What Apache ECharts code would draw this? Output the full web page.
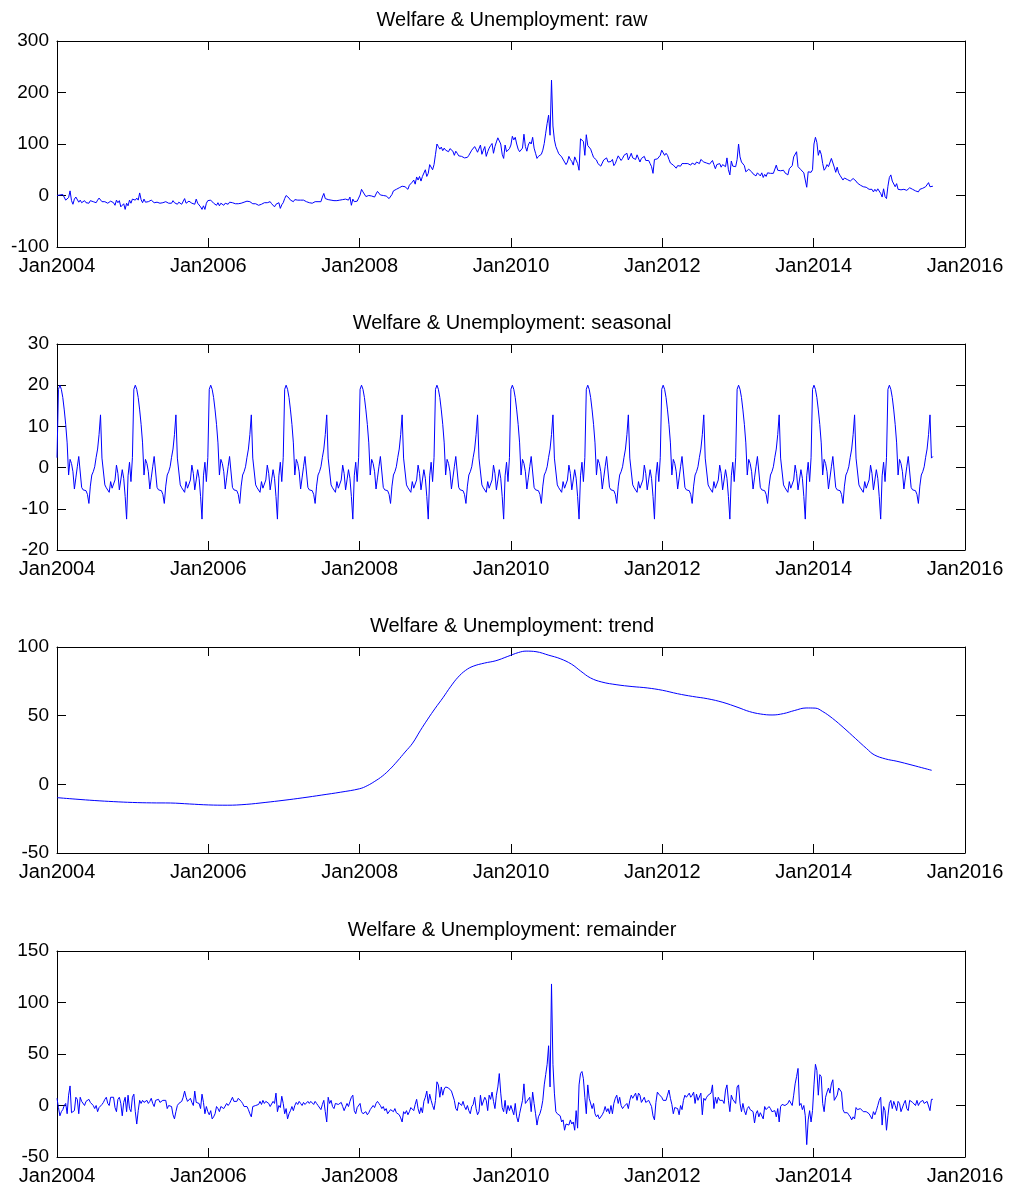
<!DOCTYPE html>
<html><head><meta charset="utf-8">
<script src="https://cdn.jsdelivr.net/npm/echarts/dist/echarts.min.js"></script>
<style>html,body{margin:0;padding:0;background:#fff}#c{width:1012px;height:1187px}</style>
</head><body><div id="c"></div>
<script>
// Weekly series, week 0 = first week of Jan 2004
const rawValues = [
0,0.5,1,2,2,0,-9,-8,-4,9,
-10,-17,-7,-3,-1,-13,-9,-14,-12,-10,
-14,-12,-15,-10,-12,-12,-9,-14,-9,-5,
-4,-12,-15,-12,-9,-15,-16,-11,-12,-14,
-19,-9,-14,-10,-22,-22,-16,-27,-15,-20,
-9,-15,-7,-4,-9,-5,-9,5,-8,-14,
-7,-13,-11,-12,-15,-9,-10,-14,-15,-13,
-12,-15,-17,-14,-15,-12,-11,-15,-12,-15,
-10,-14,-15,-17,-13,-16,-17,-15,-6,-15,
-14,-11,-13,-15,-14,-17,-7,-15,-18,-22,
-27,-20,-27,-15,-10,-7,-9,-12,-15,-18,
-19,-14,-20,-15,-18,-19,-15,-14,-17,-13,
-16,-14,-15,-16,-17,-16,-14,-15,-14,-13,
-12,-11,-12,-12,-14,-16,-17,-16,-18,-19,
-16,-17,-14,-14,-16,-14,-13,-12,-16,-14,
-22,-17,-17,-14,
-25,-18,-14,-6,0,-1,
-5,-9,-6,-12,-8,-10,-9,-10,-9,-9,
-9,-10,-12,-10,-14,-12,-15,-14,-12,-10,
-12,-9,-12,-3,4,-6,-3,-8,-6,-9,
-8,-10,-9,-10,-9,-9,-10,-8,-10,-7,
-6,-9,-3,-19,-7,-12,-12,-11,-5,1,
12,7,4,-2,-5,0,-2,-1,0,-3,
3,8,6,1,2,0,-3,-1,-4,-6,
-3,2,9,10,12,13,15,16,18,18,
17,20,12,20,23,26,30,22,36,30,
37,28,37,36,50,37,43,60,58,50,
60,80,100,95,90,94,87,92,88,89,
85,91,88,86,78,86,82,77,75,76,
74,73,72,74,78,80,88,87,95,90,
84,85,98,80,88,95,76,85,92,97,
101,82,95,104,112,114,100,80,72,98,
85,86,91,98,115,108,113,100,90,85,
88,92,119,95,86,98,104,100,113,92,
82,72,76,76,80,88,101,121,140,156,
117,224,135,108,95,88,81,78,75,72,
65,60,65,76,70,66,59,75,74,62,
49,110,113,105,78,118,97,95,90,82,
74,73,69,62,59,57,63,69,68,73,
65,62,66,70,58,62,70,77,75,68,
72,78,78,82,69,75,82,73,76,70,
79,76,65,72,70,76,68,65,68,62,
56,43,70,72,71,74,78,88,85,78,
82,78,70,63,62,59,56,53,58,60,
57,62,59,62,61,62,60,59,63,63,
60,65,68,62,70,73,65,62,63,62,
61,62,68,60,52,60,57,62,55,60,
58,56,73,50,
40,67,57,58,56,70,
100,75,65,62,58,46,45,51,50,46,
42,40,38,44,45,38,44,35,41,37,
44,42,43,43,43,44,59,49,52,48,
46,49,44,42,40,52,50,58,75,78,
85,56,53,50,48,44,42,16,46,44,
45,50,100,113,103,78,88,80,62,49,
53,60,56,59,72,74,55,45,55,44,
39,38,30,34,33,31,29,28,31,33,
30,28,24,22,20,18,17,17,16,14,
12,11,12,7,12,8,13,10,4,-3,
13,-2,-6,18,35,40,28,26,17,23,
12,12,11,10,12,12,10,12,15,13,
12,10,9,10,7,12,15,14,16,17,
18,25,17,18,18
];
const remainderValues = [
7,-2,-10,-6,-4,0,2,-8,10,19,
-7,-7,-5,8,6,-8,8,4,4,0,
4,5,6,3,2,0,-3,0,-6,-2,
-1,1,3,6,8,2,0,8,9,8,
-2,-6,6,8,2,-10,3,8,-6,10,
-3,-6,8,11,-6,-18,-5,5,2,5,
3,2,5,2,4,7,2,-1,5,5,
6,3,2,5,4,5,-3,0,1,-1,
-9,-13,-6,0,2,1,4,8,14,8,
4,3,7,3,0,14,3,4,2,-3,
11,3,-8,-1,-6,-9,-5,-13,-11,-8,
-1,-3,-6,-1,0,-3,-2,2,0,2,
5,8,4,3,4,7,7,4,2,-1,
0,-1,-4,-8,-11,-1,-1,0,0,1,
4,1,5,2,4,5,2,-1,-1,4,
2,12,-6,0,
-2,9,2,-8,-3,-13,
-8,-5,-1,-5,0,3,1,4,2,0,
3,1,1,4,2,4,3,1,4,2,
0,-1,-4,1,5,-6,-16,8,2,5,
-1,-3,2,3,1,0,3,-1,-5,-6,
2,-1,4,8,10,-5,-8,-2,-3,2,
-6,-8,-7,-6,-9,-7,-4,-3,0,-2,
2,4,2,0,-3,-1,-5,-3,-8,-7,
-4,-5,-6,-3,-7,-6,-9,-12,-16,-6,
-8,-5,-9,-6,-2,-3,-5,1,6,-3,
-8,-2,-7,4,8,14,2,11,5,0,
-4,5,23,20,8,18,10,16,18,19,
17,18,14,15,5,-3,-5,3,2,0,
4,-1,-4,0,-5,-8,-1,1,8,-3,
-9,-6,10,0,-1,8,5,-5,10,6,
13,4,-3,10,18,31,12,-2,-6,5,
-8,0,-5,0,1,-9,2,-11,-16,-8,
-8,5,21,2,4,5,8,-6,13,2,
-8,-19,-11,-8,-3,5,20,30,40,58,
18,118,40,12,-6,-8,-7,-10,-16,-14,
-24,-18,-17,-19,-14,-18,-16,-24,-5,-22,
20,31,33,26,8,-8,20,7,7,-3,
2,-8,-11,-9,-13,-14,-9,-6,-1,-6,
-3,-8,0,-8,2,7,10,2,8,0,
-3,-1,-1,2,-3,5,10,7,8,12,
5,12,10,3,3,8,3,2,5,2,
-1,-10,-14,3,13,11,10,8,5,5,
5,10,15,7,1,-8,-2,-1,-3,-9,
0,-4,5,10,8,10,12,8,10,13,
2,11,5,5,12,-9,7,5,8,10,
11,12,20,-3,8,2,8,5,5,5,
2,15,20,5,
-6,10,6,7,2,18,
20,2,-6,2,-5,-9,-3,-1,-4,-5,
-6,-17,-8,-5,-11,-7,-6,-13,-1,-4,
-3,-1,-3,-6,-6,-5,-11,-3,-16,-1,
1,2,0,-1,2,5,4,0,10,21,
28,36,0,2,-4,0,-10,-38,-14,-5,
-16,-5,20,40,34,10,30,28,2,-6,
8,13,17,12,21,25,5,4,10,17,
18,13,-4,-7,-6,-7,-9,-11,-14,-11,
-13,-2,-4,-3,-3,-3,-6,-5,-6,-7,
-8,-9,-13,-6,-9,-5,0,5,8,-19,
-1,-5,-24,-10,2,5,-3,4,0,-5,
4,2,-6,-5,2,5,-3,-5,5,5,
3,2,0,5,0,3,2,5,2,3,
4,5,-5,6,6
];
// One 52-week seasonal cycle (STL seasonal component repeats every year)
const seasonalPattern = [2.4,19,20,19,17,14,10.5,6,-1.8,2,1,-1,-5.2,-2.5,0.2,2.7,2.8,-4.8,-5.4,-5.4,
-5.6,-6.5,-8.7,-4.5,-1.8,-1,0.2,2.5,4.5,8,12.8,2.3,2.7,-4.2,-4.9,-5,-6,-3.4,-5,-5.4,
-3,0.6,-1.4,-5.4,-3,-0.5,-2.6,-7,-12.5,-2,1.3,-3.4];
// Trend read at these dates (decimal years)
const trendYears = [2004.00,2004.25,2004.50,2004.75,2005.00,2005.25,2005.50,2005.75,2006.00,2006.25,2006.50,2006.75,2007.00,2007.25,2007.50,2007.75,
2008.00,2008.10,2008.20,2008.30,2008.40,2008.50,2008.60,2008.70,2008.80,2008.90,2009.00,2009.10,2009.20,2009.30,2009.40,2009.50,2009.65,2009.80,2009.95,
2010.10,2010.20,2010.33,2010.50,2010.65,2010.80,2010.92,2011.05,2011.20,2011.40,2011.60,2011.80,2012.00,2012.20,2012.40,2012.60,2012.80,
2013.00,2013.15,2013.30,2013.45,2013.60,2013.75,2013.90,2014.02,2014.12,2014.25,2014.40,2014.55,2014.70,2014.80,2014.95,2015.10,2015.30,2015.56];
const trendValues = [-9.7,-10.8,-11.8,-12.6,-13.2,-13.5,-13.6,-14.3,-15.0,-15.2,-14.6,-13.2,-11.6,-9.8,-7.8,-5.7,
-3.2,-1,2.2,6,11,17,23.5,30,39,47.5,55.5,63,71,78,83,86,88.3,90,93,
96,97,96.6,94,91.5,87.5,82.5,77.5,74.5,72.5,71.2,70.2,68.5,66,64,62.3,59.7,
56,53,51.2,50.5,51.5,53.8,55.6,55.5,53,48,41,33.5,26,21.5,18.5,16.8,14,10.2];

const panelTitles = ['Welfare & Unemployment: raw','Welfare & Unemployment: seasonal','Welfare & Unemployment: trend','Welfare & Unemployment: remainder'];
const yMins = [-100,-20,-50,-50];
const yMaxs = [300,30,100,150];
const yIntervals = [100,10,50,50];
const xMin = 2004, xMax = 2016, xInterval = 2;

const weekToYear = w => 2004 + w * 7 / 365.25;
const rawData = rawValues.map((v,w)=>[weekToYear(w), v]);
const remData = remainderValues.map((v,w)=>[weekToYear(w), v]);
const seasData = rawValues.map((_,w)=>[weekToYear(w), seasonalPattern[w % 52]]);
const trendData = trendValues.map((v,i)=>[trendYears[i], v]);
const seriesData = [rawData, seasData, trendData, remData];

const FONT = '"Liberation Sans", Arial, Helvetica, sans-serif';
const panelTops = [41, 344, 647, 951];
const panelHeight = 206;

const grid = [], xAxis = [], yAxis = [], series = [], title = [];
for (let i=0;i<4;i++){
  grid.push({left:57, right:47, top:panelTops[i], height:panelHeight});
  title.push({text:panelTitles[i], left:512, top:panelTops[i]-31, textAlign:'center', padding:0,
    textStyle:{fontFamily:FONT, fontSize:20, fontWeight:'normal', color:'#000'}});
  const axLine = {show:true, onZero:false, lineStyle:{color:'#000', width:1}};
  const tick = {show:true, inside:true, length:9, lineStyle:{color:'#000', width:1}};
  xAxis.push({type:'value', gridIndex:i, min:xMin, max:xMax, interval:xInterval, position:'bottom',
    axisLine:axLine, axisTick:tick, splitLine:{show:false},
    axisLabel:{formatter:v=>'Jan'+v, color:'#000', fontFamily:FONT, fontSize:20, margin:9, showMinLabel:true, showMaxLabel:true}});
  xAxis.push({type:'value', gridIndex:i, min:xMin, max:xMax, interval:xInterval, position:'top',
    axisLine:axLine, axisTick:tick, splitLine:{show:false}, axisLabel:{show:false}});
  yAxis.push({type:'value', gridIndex:i, min:yMins[i], max:yMaxs[i], interval:yIntervals[i], position:'left',
    axisLine:axLine, axisTick:tick, splitLine:{show:false},
    axisLabel:{color:'#000', fontFamily:FONT, fontSize:19, margin:8, showMinLabel:true, showMaxLabel:true}});
  yAxis.push({type:'value', gridIndex:i, min:yMins[i], max:yMaxs[i], interval:yIntervals[i], position:'right',
    axisLine:axLine, axisTick:tick, splitLine:{show:false}, axisLabel:{show:false}});
  series.push({type:'line', xAxisIndex:2*i, yAxisIndex:2*i, data:seriesData[i], showSymbol:false, symbol:'none',
    smooth: i===2 ? 0.4 : false, lineStyle:{color:'#0000ff', width:1}, itemStyle:{color:'#0000ff'}, z:3});
}
const chart = echarts.init(document.getElementById('c'), null, {renderer:'canvas'});
chart.setOption({animation:false, backgroundColor:'#fff', title, grid, xAxis, yAxis, series});
</script></body></html>
